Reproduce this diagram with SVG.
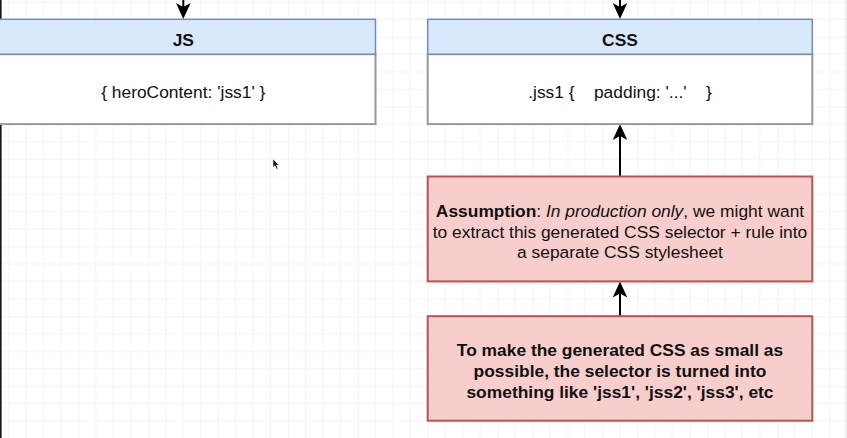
<svg xmlns="http://www.w3.org/2000/svg" width="847" height="438" viewBox="0 0 847 438">
  <style>
    .t { font-family: "Liberation Sans", Arial, Helvetica, sans-serif; font-size: 17.4px; fill: #111; text-anchor: middle; white-space: pre; }
    .b { font-weight: bold; }
    .i { font-style: italic; }
    .hdr { fill: #dae8fc; stroke: #6c8ebf; stroke-width: 1.5; }
    .body { fill: #ffffff; stroke: #999999; stroke-width: 2; }
    .note { fill: #f8cecc; stroke: #b85450; stroke-width: 2; }
    .edge { fill: none; stroke: #000; stroke-width: 2; marker-end: url(#arrow); }
  </style>
  <defs>
    <!-- 17.47px grid, heavier line every 4 cells -->
    <pattern id="grid" patternUnits="userSpaceOnUse" x="8.5" y="36.8" width="69.88" height="69.88">
      <path d="M17.47 0V69.88M34.94 0V69.88M52.41 0V69.88M0 17.47H69.88M0 34.94H69.88M0 52.41H69.88" stroke="#f3f3f3" stroke-width="1" fill="none"/>
      <path d="M0 0V69.88M0 0H69.88" stroke="#e8e8e8" stroke-width="1" fill="none"/>
    </pattern>
    <marker id="arrow" markerUnits="userSpaceOnUse" viewBox="0 -8 17 16" markerWidth="17" markerHeight="16" refX="4" refY="0" orient="auto">
      <path d="M16 0L0 -7.3L4 0L0 7.3Z" fill="#000"/>
    </marker>
  </defs>

  <!-- canvas -->
  <rect x="0" y="0" width="847" height="438" fill="#fff"/>
  <rect x="0" y="0" width="847" height="438" fill="url(#grid)"/>
  <rect x="0" y="0" width="1.6" height="438" fill="#151515"/>
  <line x1="846" y1="0" x2="846" y2="438" stroke="#dcdcdc" stroke-width="1"/>

  <!-- connectors -->
  <g id="connectors">
    <path class="edge" d="M183.3 -5V7"/>
    <path class="edge" d="M620 -5V7"/>
    <path class="edge" d="M620 176.5V136"/>
    <path class="edge" d="M620 316.2V293.5"/>
  </g>

  <!-- JS object -->
  <g id="node-js">
    <rect class="body" x="-9" y="54.2" width="384.5" height="69.9"/>
    <rect class="hdr" x="-9" y="19.3" width="384.5" height="34.9"/>
    <text class="t b" x="183.3" y="45.5">JS</text>
    <text class="t" x="183.3" y="97.5">{ heroContent: 'jss1' }</text>
  </g>

  <!-- generated CSS -->
  <g id="node-css">
    <rect class="body" x="427.7" y="54.2" width="384.6" height="69.9"/>
    <rect class="hdr" x="427.7" y="19.3" width="384.6" height="34.9"/>
    <text class="t b" x="620" y="45.5">CSS</text>
    <text class="t" x="620" y="97.5" xml:space="preserve">.jss1 {    padding: '...'    }</text>
  </g>

  <!-- extraction note -->
  <g id="node-assumption">
    <rect class="note" x="427.7" y="176.5" width="384.6" height="104.9"/>
    <text class="t" x="620" y="216.6"><tspan class="b">Assumption</tspan>: <tspan class="i">In production only</tspan>, we might want</text>
    <text class="t" x="620" y="237.5">to extract this generated CSS selector + rule into</text>
    <text class="t" x="620" y="258.4">a separate CSS stylesheet</text>
  </g>

  <!-- short class names note -->
  <g id="node-minify">
    <rect class="note" x="427.7" y="316.2" width="384.6" height="104.5"/>
    <text class="t b" x="620" y="355.7">To make the generated CSS as small as</text>
    <text class="t b" x="620" y="376.6">possible, the selector is turned into</text>
    <text class="t b" x="620" y="397.5">something like 'jss1', 'jss2', 'jss3', etc</text>
  </g>

  <!-- pointer -->
  <path d="M273 159L273 167.5L275 165.6L276.6 169.2L278 168.6L276.4 165L279 165Z" fill="#111" stroke="#fff" stroke-width="0.5"/>
</svg>
